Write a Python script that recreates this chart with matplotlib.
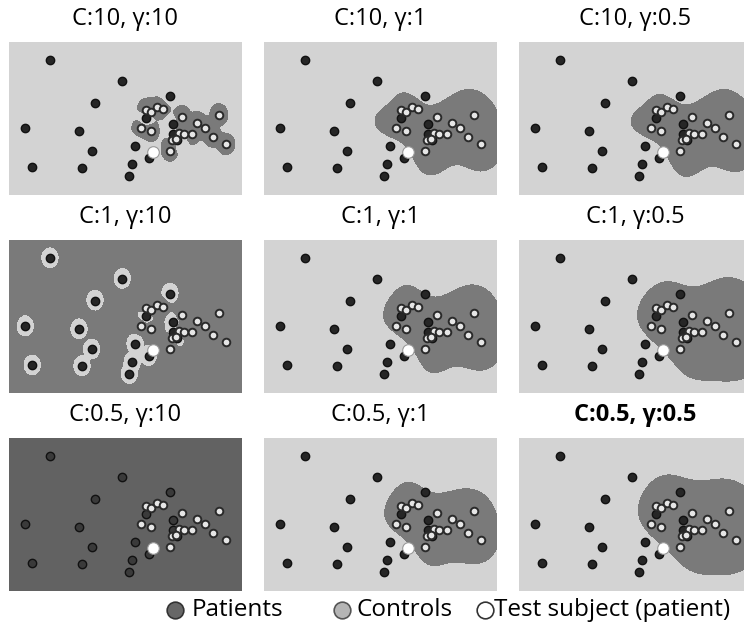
import numpy as np
import matplotlib
matplotlib.use('Agg')
import matplotlib.pyplot as plt
from matplotlib.colors import ListedColormap
from matplotlib.lines import Line2D

# point positions (x: 0-10, y: 0-6.6)
patients_x = [1.76, 4.87, 3.70, 6.92, 0.70, 3.01, 3.55, 1.00, 3.14, 5.42, 5.30, 5.17, 5.99, 5.89, 7.06, 7.06, 7.23]
patients_y = [5.80, 4.91, 3.97, 4.27, 2.87, 2.75, 1.88, 1.19, 1.16, 2.12, 1.32, 0.82, 1.60, 3.30, 3.04, 2.61, 2.39]
controls_x = [5.89, 6.09, 6.35, 6.60, 5.67, 6.10, 7.42, 8.09, 8.42, 9.03, 8.75, 9.33, 7.28, 7.49, 7.85, 6.99, 7.16, 6.92]
controls_y = [3.65, 3.58, 3.78, 3.70, 2.87, 2.75, 3.37, 3.11, 2.87, 3.44, 2.51, 2.18, 2.65, 2.64, 2.61, 2.39, 2.41, 1.89]
test_x = [6.16]
test_y = [1.86]

C_values = [10, 1, 0.5]
gamma_values = [10, 1, 0.5]

# how picture units map to feature units for each panel (rows: C, cols: gamma)
kernel_scale = [[1.2, 1.0, 1.35],
                [1.8, 1.0, 1.0],
                [1.8, 1.0, 1.0]]
ASPECT = 0.83


def rbf(A, B, gamma):
    d2 = ((A[:, None, :] - B[None, :, :]) ** 2).sum(-1)
    return np.exp(-gamma * d2)


def fit_svm(X, y, C, gamma, tol=1e-5, max_iter=50000):
    # small libsvm-style SMO solver
    n = len(y)
    K = rbf(X, X, gamma)
    Q = np.outer(y, y) * K
    a = np.zeros(n)
    G = -np.ones(n)
    for _ in range(max_iter):
        up = ((a < C) & (y > 0)) | ((a > 0) & (y < 0))
        low = ((a < C) & (y < 0)) | ((a > 0) & (y > 0))
        v = -y * G
        iu = np.where(up)[0]
        il = np.where(low)[0]
        i = iu[np.argmax(v[iu])]
        j = il[np.argmin(v[il])]
        if v[i] - v[j] < tol:
            break
        ai, aj = a[i], a[j]
        if y[i] != y[j]:
            quad = max(Q[i, i] + Q[j, j] + 2 * Q[i, j], 1e-12)
            delta = (-G[i] - G[j]) / quad
            diff = a[i] - a[j]
            a[i] += delta
            a[j] += delta
            if diff > 0:
                if a[j] < 0:
                    a[j] = 0; a[i] = diff
                if a[i] > C:
                    a[i] = C; a[j] = C - diff
            else:
                if a[i] < 0:
                    a[i] = 0; a[j] = -diff
                if a[j] > C:
                    a[j] = C; a[i] = C + diff
        else:
            quad = max(Q[i, i] + Q[j, j] - 2 * Q[i, j], 1e-12)
            delta = (G[i] - G[j]) / quad
            s = a[i] + a[j]
            a[i] -= delta
            a[j] += delta
            if s > C:
                if a[i] > C:
                    a[i] = C; a[j] = s - C
                if a[j] > C:
                    a[j] = C; a[i] = s - C
            else:
                if a[j] < 0:
                    a[j] = 0; a[i] = s
                if a[i] < 0:
                    a[i] = 0; a[j] = s
        G += Q[:, i] * (a[i] - ai) + Q[:, j] * (a[j] - aj)
    # bias
    yG = y * G
    free = (a > 1e-9) & (a < C - 1e-9)
    if free.any():
        rho = yG[free].mean()
    else:
        at_up = a >= C - 1e-9
        ub_mask = (at_up & (y < 0)) | (~at_up & (y > 0))
        lb_mask = (at_up & (y > 0)) | (~at_up & (y < 0))
        ub = yG[ub_mask].min() if ub_mask.any() else np.inf
        lb = yG[lb_mask].max() if lb_mask.any() else -np.inf
        rho = (ub + lb) / 2
    return a, rho


y = np.r_[-np.ones(len(patients_x)), np.ones(len(controls_x))]

XMAX, YMAX = 10.0, 6.59
gx, gy = np.meshgrid(np.linspace(0, XMAX, 466), np.linspace(0, YMAX, 306))

light = '#d3d3d3'
dark = '#7a7a7a'
flat = '#626262'   # colour of a panel where every point gets one class
region_cmap = ListedColormap([light, dark])

fig = plt.figure(figsize=(7.44, 6.25), dpi=100)
plt.rcParams['font.family'] = ['Open Sans', 'DejaVu Sans']

lefts = [9, 264, 519]
tops = [42, 240, 438]
W, H = 233, 153

for r, C in enumerate(C_values):
    for c, g in enumerate(gamma_values):
        k = r * 3 + c
        s = kernel_scale[r][c]
        X = np.column_stack([np.r_[patients_x, controls_x] * s, np.r_[patients_y, controls_y] * s * ASPECT])
        grid = np.column_stack([gx.ravel() * s, gy.ravel() * s * ASPECT])
        ax = fig.add_axes([lefts[c] / 744, 1 - (tops[r] + H) / 625, W / 744, H / 625])
        a, rho = fit_svm(X, y, C, g)
        f = (rbf(grid, X, g) @ (a * y) - rho).reshape(gx.shape)
        uniform = (f > 0).all() or (f < 0).all()
        if uniform:
            ax.set_facecolor(flat)
        else:
            ax.imshow((f > 0).astype(float), cmap=region_cmap, vmin=0, vmax=1, origin='lower',
                      extent=[0, XMAX, 0, YMAX], interpolation='nearest', aspect='auto')
        pfill = '#3a3a3a' if uniform else '#262626'
        ax.scatter(patients_x, patients_y, s=36, c=pfill, edgecolors='#111111', linewidths=1.0, zorder=3)
        ax.scatter(controls_x, controls_y, s=30, c='#e6e6e6', edgecolors='#2a2a2a', linewidths=1.4, zorder=4)
        ax.scatter(test_x, test_y, s=70, c='white', edgecolors='#999999', linewidths=0.8, zorder=5)
        ax.set_xlim(0, XMAX)
        ax.set_ylim(0, YMAX)
        ax.set_xticks([])
        ax.set_yticks([])
        for sp in ax.spines.values():
            sp.set_visible(False)
        title = f'C:{C}, γ:{g}'
        fig.text((lefts[c] + W / 2) / 744, 1 - (tops[r] - 23) / 625, title,
                 ha='center', va='center', fontsize=17,
                 fontweight='bold' if k == 8 else 'normal')

# legend row
leg_y = 1 - 610 / 625
items = [(175, 192, '#676767', '#333333', 'Patients'),
         (342, 357, '#b5b5b5', '#555555', 'Controls'),
         (485, 494, 'white', '#333333', 'Test subject (patient)')]
for cx, tx, fc, ec, label in items:
    fig.add_artist(Line2D([cx / 744], [leg_y], marker='o', markersize=12,
                          markerfacecolor=fc, markeredgecolor=ec, markeredgewidth=1.2,
                          linestyle='none', transform=fig.transFigure))
    fig.text(tx / 744, leg_y, label, ha='left', va='center', fontsize=17.5)

fig.savefig('out.png', dpi=100)
